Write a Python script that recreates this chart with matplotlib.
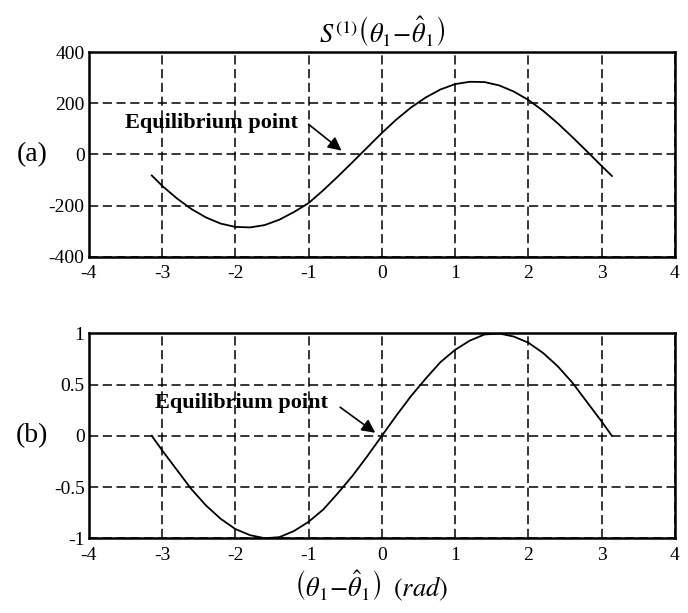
import matplotlib
matplotlib.use("Agg")
import matplotlib.pyplot as plt

plt.rcParams['font.family'] = ['Liberation Serif', 'DejaVu Serif']
plt.rcParams['mathtext.fontset'] = 'stix'
plt.rcParams['axes.unicode_minus'] = False

# Data
theta = [-3.14, -3.0, -2.8, -2.6, -2.4, -2.2, -2.0, -1.8, -1.6, -1.4, -1.2,
         -1.0, -0.8, -0.6, -0.4, -0.2, 0.0, 0.2, 0.4, 0.6, 0.8, 1.0,
         1.2, 1.4, 1.6, 1.8, 2.0, 2.2, 2.4, 2.6, 2.8, 3.0, 3.14]
s1_values = [-82, -122, -171, -213, -246, -270, -283, -285, -276, -255, -225,
             -190, -140, -86, -30, 27, 84, 137, 184, 223, 254, 275,
             284, 283, 270, 246, 213, 171, 122, 68, 12, -45, -84]
s2_values = [0.0, -0.14, -0.33, -0.52, -0.68, -0.81, -0.91, -0.97, -1.0, -0.99, -0.93,
             -0.84, -0.72, -0.56, -0.39, -0.2, 0.0, 0.2, 0.39, 0.56, 0.72, 0.84,
             0.93, 0.99, 1.0, 0.97, 0.91, 0.81, 0.68, 0.52, 0.33, 0.14, 0.0]
x_ticks = [-4, -3, -2, -1, 0, 1, 2, 3, 4]
y1_ticks = [-400, -200, 0, 200, 400]
y2_ticks = [-1, -0.5, 0, 0.5, 1]
y2_labels = ['-1', '-0.5', '0', '0.5', '1']
x_labels = ['-4', '-3', '-2', '-1', '0', '1', '2', '3', '4']

fig = plt.figure(figsize=(6.88, 6.13), dpi=100)
ax1 = fig.add_axes([0.129, 0.581, 0.852, 0.334])
ax2 = fig.add_axes([0.129, 0.122, 0.852, 0.334])

def style(ax):
    ax.set_xlim(-4, 4)
    ax.set_xticks(x_ticks)
    ax.set_xticklabels(x_labels)
    ax.grid(True, color='black', linestyle=(0, (6, 3)), linewidth=1.1)
    ax.tick_params(direction='in', length=0, labelsize=14, colors='black')
    ax.tick_params(axis='x', pad=6)
    ax.tick_params(axis='y', pad=3)
    for sp in ax.spines.values():
        sp.set_linewidth(1.8)
        sp.set_color('black')

ax1.plot(theta, s1_values, color='black', linewidth=1.3)
ax1.set_ylim(-400, 400)
ax1.set_yticks(y1_ticks)
style(ax1)

ax2.plot(theta, s2_values, color='black', linewidth=1.3)
ax2.set_ylim(-1, 1)
ax2.set_yticks(y2_ticks)
ax2.set_yticklabels(y2_labels)
style(ax2)

ax1.set_title(r"$S^{(1)}\left(\theta_1\!-\!\hat{\theta}_1\right)$", fontsize=19, pad=6)
fig.text(0.54, 0.043, r"$\left(\theta_1\!-\!\hat{\theta}_1\right)\;\;(rad)$",
         fontsize=19, ha='center', va='center')

fig.text(0.047, 0.748, "(a)", fontsize=20, ha='center', va='center')
fig.text(0.047, 0.289, "(b)", fontsize=20, ha='center', va='center')

arrow_kw = dict(arrowstyle='-|>', color='black', lw=1.2,
                mutation_scale=20, shrinkA=0, shrinkB=0)

ax1.text(-2.33, 123, "Equilibrium point", fontsize=16, fontweight='bold',
         ha='center', va='center')
ax1.annotate("", xy=(-0.55, 15), xytext=(-1.0, 118), arrowprops=arrow_kw)

ax2.text(-1.91, 0.32, "Equilibrium point", fontsize=16, fontweight='bold',
         ha='center', va='center')
ax2.annotate("", xy=(-0.09, 0.03), xytext=(-0.57, 0.28), arrowprops=arrow_kw)

fig.savefig("out.png", dpi=100)
